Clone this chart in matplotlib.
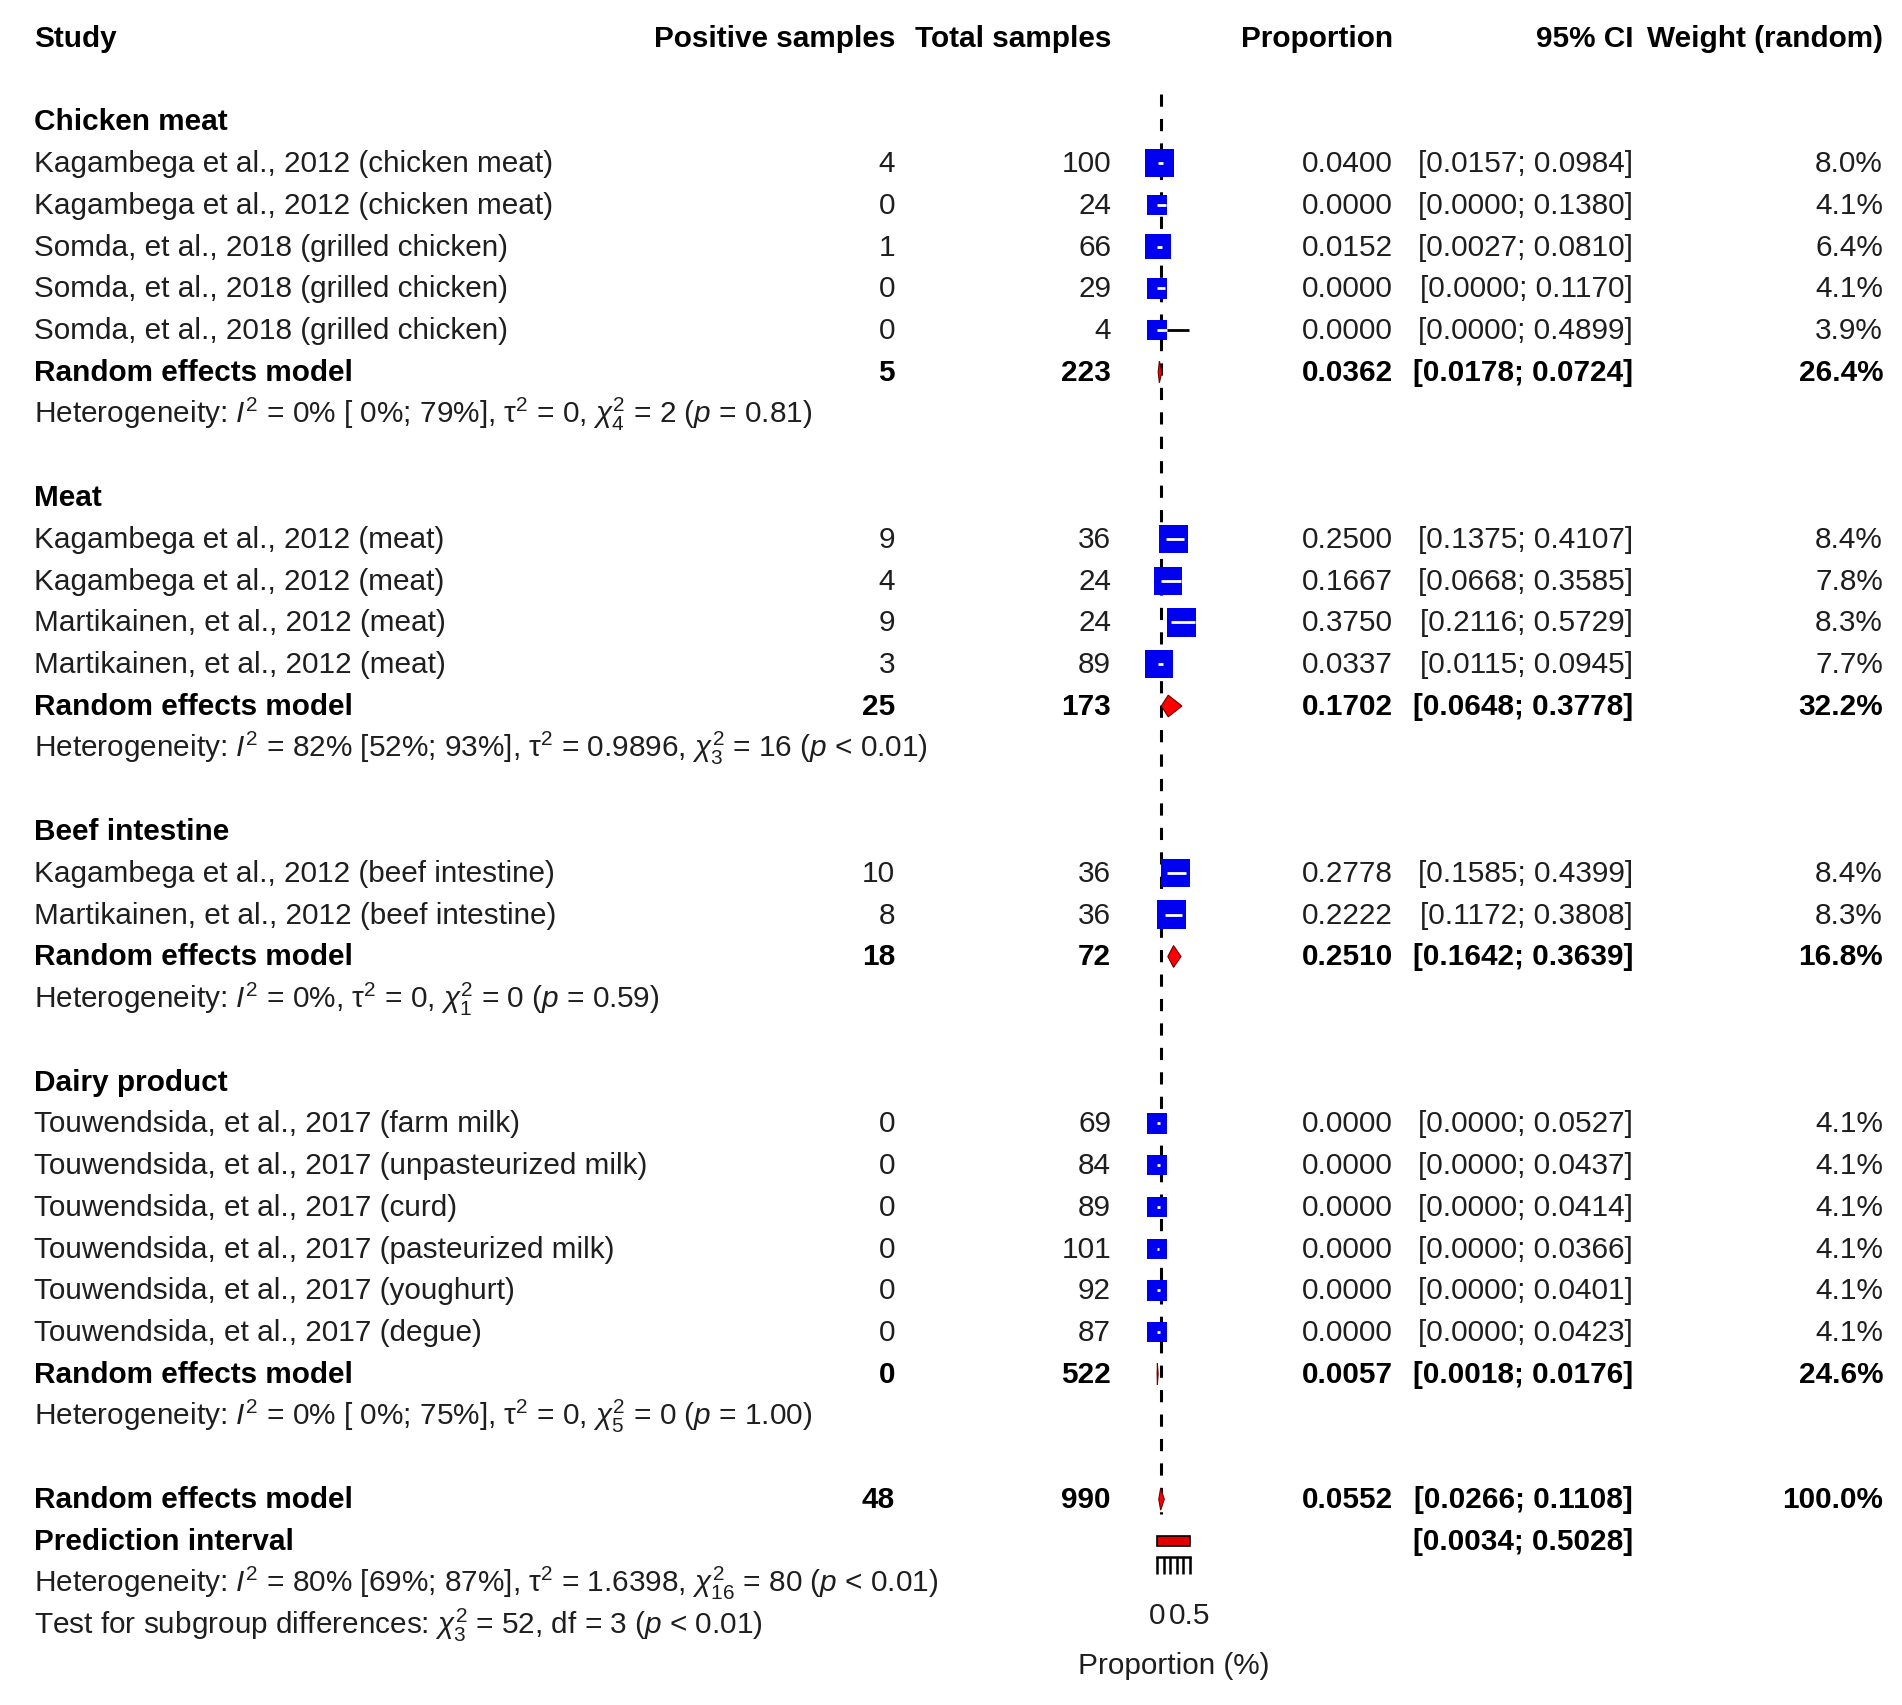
import numpy as np
import matplotlib
matplotlib.use("Agg")
import matplotlib.pyplot as plt
from matplotlib.patches import Polygon, Rectangle

plt.rcParams["font.family"] = ["Liberation Sans", "DejaVu Sans"]
plt.rcParams["mathtext.fontset"] = "custom"
plt.rcParams["mathtext.rm"] = "Liberation Sans"
plt.rcParams["mathtext.it"] = "Liberation Sans:italic"
plt.rcParams["mathtext.bf"] = "Liberation Sans:bold"

# ---- data ----
GROUPS = ["Chicken meat", "Meat", "Beef intestine", "Dairy product"]

STUDY = [
    "Kagambega et al., 2012 (chicken meat)", "Kagambega et al., 2012 (chicken meat)",
    "Somda, et al., 2018 (grilled chicken)", "Somda, et al., 2018 (grilled chicken)",
    "Somda, et al., 2018 (grilled chicken)",
    "Kagambega et al., 2012 (meat)", "Kagambega et al., 2012 (meat)",
    "Martikainen, et al., 2012 (meat)", "Martikainen, et al., 2012 (meat)",
    "Kagambega et al., 2012 (beef intestine)", "Martikainen, et al., 2012 (beef intestine)",
    "Touwendsida, et al., 2017 (farm milk)", "Touwendsida, et al., 2017 (unpasteurized milk)",
    "Touwendsida, et al., 2017 (curd)", "Touwendsida, et al., 2017 (pasteurized milk)",
    "Touwendsida, et al., 2017 (youghurt)", "Touwendsida, et al., 2017 (degue)",
]
GROUP_ID = [0, 0, 0, 0, 0, 1, 1, 1, 1, 2, 2, 3, 3, 3, 3, 3, 3]
POS = [4, 0, 1, 0, 0, 9, 4, 9, 3, 10, 8, 0, 0, 0, 0, 0, 0]
TOTAL = [100, 24, 66, 29, 4, 36, 24, 24, 89, 36, 36, 69, 84, 89, 101, 92, 87]
PROP = [0.0400, 0.0000, 0.0152, 0.0000, 0.0000, 0.2500, 0.1667, 0.3750, 0.0337,
        0.2778, 0.2222, 0.0000, 0.0000, 0.0000, 0.0000, 0.0000, 0.0000]
CI_LO = [0.0157, 0.0000, 0.0027, 0.0000, 0.0000, 0.1375, 0.0668, 0.2116, 0.0115,
         0.1585, 0.1172, 0.0000, 0.0000, 0.0000, 0.0000, 0.0000, 0.0000]
CI_HI = [0.0984, 0.1380, 0.0810, 0.1170, 0.4899, 0.4107, 0.3585, 0.5729, 0.0945,
         0.4399, 0.3808, 0.0527, 0.0437, 0.0414, 0.0366, 0.0401, 0.0423]
WEIGHT = [8.0, 4.1, 6.4, 4.1, 3.9, 8.4, 7.8, 8.3, 7.7, 8.4, 8.3, 4.1, 4.1, 4.1, 4.1, 4.1, 4.1]

SUB_POS = [5, 25, 18, 0]
SUB_TOTAL = [223, 173, 72, 522]
SUB_PROP = [0.0362, 0.1702, 0.2510, 0.0057]
SUB_LO = [0.0178, 0.0648, 0.1642, 0.0018]
SUB_HI = [0.0724, 0.3778, 0.3639, 0.0176]
SUB_WEIGHT = [26.4, 32.2, 16.8, 24.6]
SUB_HET = [
    r"Heterogeneity: $I^2$ = 0% [ 0%; 79%], $\mathrm{\tau}^2$ = 0, $\chi^2_4$ = 2 ($p$ = 0.81)",
    r"Heterogeneity: $I^2$ = 82% [52%; 93%], $\mathrm{\tau}^2$ = 0.9896, $\chi^2_3$ = 16 ($p$ < 0.01)",
    r"Heterogeneity: $I^2$ = 0%, $\mathrm{\tau}^2$ = 0, $\chi^2_1$ = 0 ($p$ = 0.59)",
    r"Heterogeneity: $I^2$ = 0% [ 0%; 75%], $\mathrm{\tau}^2$ = 0, $\chi^2_5$ = 0 ($p$ = 1.00)",
]

ALL_POS, ALL_TOTAL = 48, 990
ALL_PROP, ALL_LO, ALL_HI, ALL_WEIGHT = 0.0552, 0.0266, 0.1108, 100.0
PRED_LO, PRED_HI = 0.0034, 0.5028
ALL_HET = (r"Heterogeneity: $I^2$ = 80% [69%; 87%], $\mathrm{\tau}^2$ = 1.6398, "
           r"$\chi^2_{16}$ = 80 ($p$ < 0.01)")
SUBGROUP_TEST = r"Test for subgroup differences: $\chi^2_3$ = 52, df = 3 ($p$ < 0.01)"

HEADERS = ["Study", "Positive samples", "Total samples", "Proportion", "95% CI", "Weight (random)"]
TICKS = [0, 0.1, 0.2, 0.3, 0.4, 0.5]
TICK_LABELS = ["0", "", "", "", "", "0.5"]

# ---- layout ----
W, H = 1902, 1706
ROW0, DROW = 39, 41.75            # pixel y of header row, row height
Y_TOP, Y_BOT = -ROW0 / DROW, (H - ROW0) / DROW
X_STUDY, X_POS, X_TOT, X_PROP, X_CI, X_W = 34, 895, 1111, 1393, 1633, 1883
X_ZERO, PX_UNIT = 1157, 66        # forest x scale
FLIM = (-0.25, 0.75)
FS = 21.4
TXT = "#1e1e1e"

fig = plt.figure(figsize=(W / 100, H / 100), dpi=100)
ax = fig.add_axes([0, 0, 1, 1])
ax.set_xlim(0, W)
ax.set_ylim(Y_BOT, Y_TOP)
ax.axis("off")

fx0 = X_ZERO + FLIM[0] * PX_UNIT
fw = (FLIM[1] - FLIM[0]) * PX_UNIT
axf = fig.add_axes([fx0 / W, 0, fw / W, 1])
axf.set_xlim(*FLIM)
axf.set_ylim(Y_BOT, Y_TOP)
axf.axis("off")


def row_text(r, cols, bold=False):
    wt = "bold" if bold else "normal"
    col = "black" if bold else TXT
    for x, s, ha in cols:
        ax.text(x, r, s, ha=ha, va="center", fontsize=FS, fontweight=wt, color=col)


def diamond(r, est, lo, hi, h=0.26):
    axf.add_patch(Polygon([(lo, r), (est, r - h), (hi, r), (est, r + h)], closed=True,
                          facecolor="#ff0000", edgecolor="#6a0000", lw=0.8, zorder=4,
                          clip_on=False))


row_text(0, [(X_STUDY, HEADERS[0], "left"), (X_POS, HEADERS[1], "right"),
             (X_TOT, HEADERS[2], "right"), (X_PROP, HEADERS[3], "right"),
             (X_CI, HEADERS[4], "right"), (X_W, HEADERS[5], "right")], bold=True)

r = 2
study_rows = []
for g, gname in enumerate(GROUPS):
    ax.text(X_STUDY, r, gname, ha="left", va="center", fontsize=FS,
            fontweight="bold", color="black")
    r += 1
    for i in [k for k, gid in enumerate(GROUP_ID) if gid == g]:
        row_text(r, [(X_STUDY, STUDY[i], "left"), (X_POS, f"{POS[i]}", "right"),
                     (X_TOT, f"{TOTAL[i]}", "right"), (X_PROP, f"{PROP[i]:.4f}", "right"),
                     (X_CI, f"[{CI_LO[i]:.4f}; {CI_HI[i]:.4f}]", "right"),
                     (X_W, f"{WEIGHT[i]:.1f}%", "right")])
        study_rows.append((i, r))
        r += 1
    row_text(r, [(X_STUDY, "Random effects model", "left"), (X_POS, f"{SUB_POS[g]}", "right"),
                 (X_TOT, f"{SUB_TOTAL[g]}", "right"), (X_PROP, f"{SUB_PROP[g]:.4f}", "right"),
                 (X_CI, f"[{SUB_LO[g]:.4f}; {SUB_HI[g]:.4f}]", "right"),
                 (X_W, f"{SUB_WEIGHT[g]:.1f}%", "right")], bold=True)
    diamond(r, SUB_PROP[g], SUB_LO[g], SUB_HI[g])
    r += 1
    ax.text(X_STUDY, r, SUB_HET[g], ha="left", va="center", fontsize=FS, color=TXT)
    r += 2

row_text(r, [(X_STUDY, "Random effects model", "left"), (X_POS, f"{ALL_POS}", "right"),
             (X_TOT, f"{ALL_TOTAL}", "right"), (X_PROP, f"{ALL_PROP:.4f}", "right"),
             (X_CI, f"[{ALL_LO:.4f}; {ALL_HI:.4f}]", "right"),
             (X_W, f"{ALL_WEIGHT:.1f}%", "right")], bold=True)
diamond(r, ALL_PROP, ALL_LO, ALL_HI)
overall_row = r
r += 1
row_text(r, [(X_STUDY, "Prediction interval", "left"),
             (X_CI, f"[{PRED_LO:.4f}; {PRED_HI:.4f}]", "right")], bold=True)
axf.add_patch(Rectangle((PRED_LO, r - 0.12), PRED_HI - PRED_LO, 0.24, facecolor="#e00000",
                        edgecolor="black", lw=1.2, zorder=4, clip_on=False))
r += 1
ax.text(X_STUDY, r, ALL_HET, ha="left", va="center", fontsize=FS, color=TXT)
r += 1
ax.text(X_STUDY, r, SUBGROUP_TEST, ha="left", va="center", fontsize=FS, color=TXT)

# reference line at the overall estimate
axf.plot([ALL_PROP, ALL_PROP], [1.35, overall_row + 0.35], color="black", lw=2.2,
         ls=(0, (4, 4)), zorder=1, clip_on=False)

# study squares with confidence intervals
for i, rr in study_rows:
    side_px = 10.0 * np.sqrt(WEIGHT[i])
    hw = side_px / 2 / PX_UNIT
    axf.plot([CI_LO[i], CI_HI[i]], [rr, rr], color="black", lw=2.0, zorder=2,
             solid_capstyle="butt", clip_on=False)
    axf.scatter([PROP[i]], [rr], marker="s", s=(side_px * 0.72) ** 2, color="#0000f0",
                edgecolors="none", zorder=3, clip_on=False)
    a, b = max(CI_LO[i], PROP[i] - hw), min(CI_HI[i], PROP[i] + hw)
    if b > a:
        axf.plot([a, b], [rr, rr], color="white", lw=2.0, zorder=3.5,
                 solid_capstyle="butt", clip_on=False)

# x axis below the prediction interval
axis_y = (H - 1557.5) / H
axx = fig.add_axes([fx0 / W, axis_y, fw / W, 0.0001])
axx.set_xlim(*FLIM)
axx.set_yticks([])
for s in ("top", "left", "right"):
    axx.spines[s].set_visible(False)
axx.spines["bottom"].set_bounds(TICKS[0], TICKS[-1])
axx.spines["bottom"].set_linewidth(1.8)
axx.patch.set_visible(False)
axx.set_xticks(TICKS)
axx.set_xticklabels(TICK_LABELS, fontsize=FS, color=TXT)
axx.tick_params(axis="x", direction="out", length=12, width=1.8, pad=20)
axx.set_xlabel("Proportion (%)", fontsize=FS, color=TXT, labelpad=16)

fig.savefig("out.png", dpi=100, facecolor="white")
